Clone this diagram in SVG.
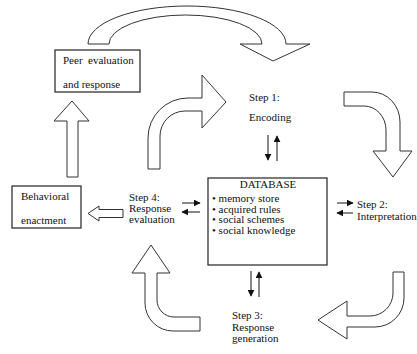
<svg xmlns="http://www.w3.org/2000/svg" width="417" height="354" viewBox="0 0 417 354">
<defs>
<style>
text{font-family:"Liberation Serif","Times New Roman",serif;font-size:11px;fill:#111}
.box{fill:#fff;stroke:#222;stroke-width:1.2}
.blk{fill:#fff;stroke:#333;stroke-width:1}
.sm{stroke:#111;stroke-width:1;fill:none;marker-end:url(#ah)}
</style>
<marker id="ah" viewBox="0 0 10 10" refX="9" refY="5" markerWidth="7" markerHeight="7" markerUnits="userSpaceOnUse" orient="auto"><path d="M0,0 L10,5 L0,10 Z" fill="#111"/></marker>
</defs>
<rect width="417" height="354" fill="#fff"/>
<g id="connectors">
<path class="blk" d="M88,44 A99,38 0 0 1 286,44 L310,44 L273,61 L240,44 L262,44 A76.5,29 0 0 0 109,44 Z"/>
<path class="blk" d="M148,169 L148,138 A40,40 0 0 1 188,98 L202,98 L202,75 L226,102 L202,128 L202,111 L185,111 A25,25 0 0 0 160,136 L160,169 Z"/>
<path class="blk" d="M344,92 L372,92 A28,30 0 0 1 400,122 L400,151 L412,151 L393,177 L373,151 L386,151 L386,130 A22,24 0 0 0 364,106 L344,106 Z"/>
<path class="blk" d="M393,272 L404,272 L404,298 A29,29 0 0 1 375,327 L347,327 L347,339 L318,320 L347,301 L347,316 L370,316 A23,23 0 0 0 393,293 Z"/>
<path class="blk" d="M151,245 L170,273 L157,273 L157,300 A17,17 0 0 0 174,317 L200,317 L200,331 L173,331 A28,28 0 0 1 145,303 L145,273 L132,273 Z"/>
<path class="blk" d="M72,101 L89,121 L78,121 L78,177 L67,177 L67,121 L54,121 Z"/>
<path class="blk" d="M88,213.5 L99,206 L99,209.5 L123,209.5 L123,217.5 L99,217.5 L99,221 Z"/>
<line class="sm" x1="268" y1="135" x2="268" y2="160"/>
<line class="sm" x1="277" y1="161" x2="277" y2="136"/>
<line class="sm" x1="337" y1="203" x2="353" y2="203"/>
<line class="sm" x1="353" y1="213" x2="337" y2="213"/>
<line class="sm" x1="182" y1="203" x2="200" y2="203"/>
<line class="sm" x1="200" y1="212" x2="182" y2="212"/>
<line class="sm" x1="251" y1="271" x2="251" y2="296"/>
<line class="sm" x1="259" y1="297" x2="259" y2="272"/>
</g>
<g id="peer">
<rect class="box" x="55" y="50" width="85" height="42"/>
<text x="63" y="64">Peer<tspan x="88">evaluation</tspan></text>
<text x="63" y="88">and response</text>
</g>
<g id="behavioral">
<rect class="box" x="12" y="186" width="69" height="42"/>
<text x="21" y="200">Behavioral</text>
<text x="21" y="224">enactment</text>
</g>
<g id="database">
<rect class="box" x="208" y="178" width="119" height="87"/>
<text x="268" y="188" text-anchor="middle">DATABASE</text>
<text x="212" y="202">• memory store</text>
<text x="212" y="212.5">• acquired rules</text>
<text x="212" y="223">• social schemes</text>
<text x="212" y="233.5">• social knowledge</text>
</g>
<g id="step1">
<text x="249" y="100.5">Step 1:</text>
<text x="249" y="120.5">Encoding</text>
</g>
<g id="step2">
<text x="357" y="208">Step 2:</text>
<text x="357" y="219.5">Interpretation</text>
</g>
<g id="step3">
<text x="232" y="319">Step 3:</text>
<text x="232" y="330.5">Response</text>
<text x="232" y="342">generation</text>
</g>
<g id="step4">
<text x="129" y="201">Step 4:</text>
<text x="129" y="212">Response</text>
<text x="129" y="223">evaluation</text>
</g>
</svg>
